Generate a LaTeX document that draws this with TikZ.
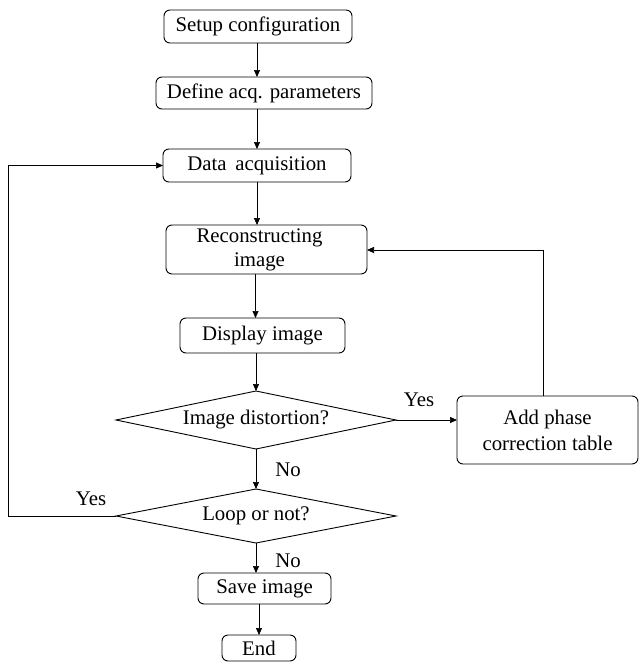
\documentclass[tikz,border=0pt]{standalone}
\usepackage{fontspec}
\setmainfont{Liberation Serif}
\usetikzlibrary{shapes.geometric,arrows.meta}
\begin{document}
\begin{tikzpicture}[x=1pt,y=-1pt,
  font=\fontsize{20.8}{25}\selectfont,
  every node/.style={inner sep=0pt, outer sep=0pt},
  stepbox/.style={draw, rounded corners=6pt, line width=0.9pt, align=center},
  decision/.style={draw, diamond, aspect=4.8, line width=0.9pt},
  link/.style={draw, line width=0.7pt, -{Triangle[length=7pt,width=6pt]}},
  lbl/.style={}]
\useasboundingbox (0,0) rectangle (641,664);
\node[stepbox, minimum width=188pt, minimum height=33pt] (setup) at (258,26.5) {Setup configuration};
\node[stepbox, minimum width=216pt, minimum height=32pt] (define) at (264,93) {Define acq. parameters};
\node[stepbox, minimum width=188pt, minimum height=33pt] (data) at (257,165.5) {Data\, acquisition};
\node[stepbox, minimum width=201pt, minimum height=49pt] (recon) at (266.5,249.5) {\raisebox{-5pt}{\hspace*{-14pt}\begin{tabular}{@{}c@{}}Reconstructing\\[-1pt]image\end{tabular}}};
\node[stepbox, minimum width=165pt, minimum height=35pt] (display) at (262.5,335.5) {Display image};
\node[decision, minimum width=280pt, minimum height=58pt] (dist) at (256,420) {Image distortion?};
\node[stepbox, minimum width=181pt, minimum height=68pt] (add) at (547.5,430) {Add phase\\[1pt]correction table};
\node[decision, minimum width=280pt, minimum height=54pt] (loop) at (256,516) {Loop or not?};
\node[stepbox, minimum width=133pt, minimum height=31pt] (save) at (264.5,588.5) {Save image};
\node[stepbox, minimum width=74pt, minimum height=26pt] (end) at (259,648) {End};
\coordinate (c1) at (257,0);
\coordinate (c2) at (255.5,0);
\coordinate (c3) at (259,0);
\coordinate (lt) at (8,516);
\coordinate (lb) at (8,165.5);
\coordinate (rt) at (543,250);
\draw[link] (c1 |- setup.south) -- (c1 |- define.north);
\draw[link] (c1 |- define.south) -- (c1 |- data.north);
\draw[link] (c1 |- data.south) -- (c1 |- recon.north);
\draw[link] (c2 |- recon.south) -- (c2 |- display.north);
\draw[link] (dist.north |- display.south) -- (dist.north);
\draw[link] (dist.south) -- (loop.north);
\draw[link] (dist.east) -- (add.west |- dist.east);
\draw[link] (rt |- add.north) -- (rt) -- (recon.east |- rt);
\draw[link] (loop.west) -- (lt) -- (lb) -- (data.west);
\draw[link] (loop.south) -- (loop.south |- save.north);
\draw[link] (c3 |- save.south) -- (c3 |- end.north);
\node[lbl] (no1) at (288,470) {No};
\node[lbl] (yes1) at (419,400) {Yes};
\node[lbl] (yes2) at (91,499) {Yes};
\node[lbl] (no2) at (288,561) {No};
\end{tikzpicture}
\end{document}
